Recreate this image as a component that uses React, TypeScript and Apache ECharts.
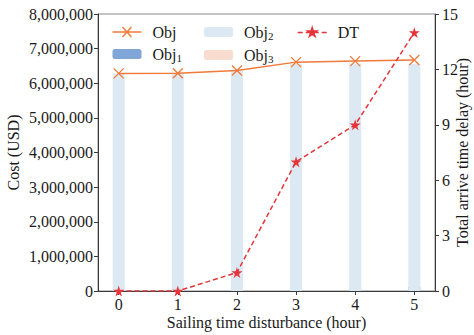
import React, { useEffect, useRef } from "react";
import * as echarts from "echarts";

const xValues = [0, 1, 2, 3, 4, 5];
const objTotal = [6285000, 6290000, 6370000, 6610000, 6640000, 6670000];
const obj1 = [0, 0, 0, 45000, 70000, 115000];
const obj3 = [0, 0, 0, 0, 0, 0];
const obj2 = [6285000, 6290000, 6370000, 6565000, 6570000, 6555000];
const dt = [0, 0, 1, 7, 9, 14];

const FONT = "'Liberation Serif', 'Times New Roman', serif";
const TXT = "#1a1a1a";
const AX = "#3a3a3a";
const ORANGE = "#ef7a3a";
const RED = "#e5353a";

const starPath =
  "path://M50,0 L61,35 L98,35 L68,57 L79,91 L50,70 L21,91 L32,57 L2,35 L39,35 Z";
const crossPath = "path://M0,0 L10,10 M10,0 L0,10";
const objIcon = "path://M0,5 L29,5 M10,0 L19,10 M19,0 L10,10";
const dtIcon =
  "path://M0,5 L5,5 M8,5 L11,5 M18,5 L21,5 M24,5 L29,5 M14.5,0 L15.6,3.5 L19.3,3.5 L16.3,5.7 L17.4,9.1 L14.5,7 L11.6,9.1 L12.7,5.7 L9.7,3.5 L13.4,3.5 Z";

export default function App() {
  const ref = useRef<HTMLDivElement>(null);
  useEffect(() => {
    if (!ref.current) return;
    const chart = echarts.init(ref.current, undefined, { renderer: "svg" });
    const pairs = (arr: number[]) => arr.map((v, i) => [xValues[i], v]);
    const legendText = {
      fontFamily: FONT,
      fontSize: 16,
      color: TXT,
      padding: [0, 0, 0, 6],
      rich: {
        a: { fontFamily: FONT, fontSize: 16, color: TXT },
        s: { fontFamily: FONT, fontSize: 11, color: TXT, padding: [7, 0, 0, 0] },
      },
    };
    const fmt = (name: string) =>
      name === "Obj" || name === "DT" ? name : `{a|Obj}{s|${name.slice(3)}}`;
    const legendBase = {
      orient: "vertical",
      padding: 0,
      itemWidth: 29,
      itemHeight: 10,
      itemGap: 6,
      textStyle: legendText,
      formatter: fmt,
      selectedMode: false,
    };
    chart.setOption({
      animation: false,
      textStyle: { fontFamily: FONT },
      grid: {
        left: 98,
        right: 39,
        top: 14,
        bottom: 44,
        outerBoundsMode: "none",
        containLabel: false,
        show: true,
        borderColor: "#8a8a8a",
        borderWidth: 1,
      },
      legend: [
        {
          ...legendBase,
          left: 110,
          top: 24,
          data: [
            {
              name: "Obj",
              icon: objIcon,
              itemStyle: { color: "none", borderColor: ORANGE, borderWidth: 1.4 },
            },
            { name: "Obj1" },
          ],
        },
        { ...legendBase, left: 204, top: 24, data: ["Obj2", "Obj3"] },
        {
          ...legendBase,
          left: 297,
          top: 24,
          data: [
            {
              name: "DT",
              icon: dtIcon,
              itemStyle: { color: RED, borderColor: RED, borderWidth: 1.4 },
            },
          ],
        },
      ],
      xAxis: {
        type: "value",
        min: -0.35,
        max: 5.35,
        name: "Sailing time disturbance (hour)",
        nameLocation: "middle",
        nameGap: 23,
        nameMoveOverlap: false,
        nameTextStyle: { fontFamily: FONT, fontSize: 16, color: TXT },
        axisLine: { onZero: false, lineStyle: { color: AX, width: 1 } },
        axisTick: { show: true, length: 4, lineStyle: { color: AX }, customValues: xValues },
        axisLabel: {
          fontFamily: FONT,
          fontSize: 16,
          color: TXT,
          margin: 5,
          customValues: xValues,
        },
        splitLine: { show: false },
      },
      yAxis: [
        {
          type: "value",
          min: 0,
          max: 8000000,
          interval: 1000000,
          name: "Cost (USD)",
          nameLocation: "middle",
          nameGap: 77,
          nameMoveOverlap: false,
          nameTextStyle: { fontFamily: FONT, fontSize: 16, color: TXT },
          axisLine: { show: true, onZero: false, lineStyle: { color: AX, width: 1 } },
          axisTick: { show: true, length: 4, lineStyle: { color: AX } },
          axisLabel: {
            fontFamily: FONT,
            fontSize: 16,
            color: TXT,
            margin: 5,
            formatter: (v: number) => v.toLocaleString("en-US"),
          },
          splitLine: { show: false },
        },
        {
          type: "value",
          min: 0,
          max: 15,
          interval: 3,
          position: "right",
          name: "Total arrive time delay (hour)",
          nameLocation: "middle",
          nameGap: 19,
          nameMoveOverlap: false,
          nameRotate: 90,
          nameTextStyle: { fontFamily: FONT, fontSize: 16, color: TXT },
          axisLine: { show: true, onZero: false, lineStyle: { color: AX, width: 1 } },
          axisTick: { show: true, length: 4, lineStyle: { color: AX } },
          axisLabel: { fontFamily: FONT, fontSize: 16, color: TXT, margin: 7 },
          splitLine: { show: false },
        },
      ],
      series: [
        {
          name: "Obj1",
          type: "bar",
          stack: "cost",
          barWidth: 12,
          data: pairs(obj1),
          itemStyle: { color: "#7fa6d6" },
        },
        {
          name: "Obj2",
          type: "bar",
          stack: "cost",
          barWidth: 12,
          data: pairs(obj2),
          itemStyle: { color: "#dce9f3" },
        },
        {
          name: "Obj3",
          type: "bar",
          stack: "cost",
          barWidth: 12,
          data: pairs(obj3),
          itemStyle: { color: "#f8dccf" },
        },
        {
          name: "Obj",
          type: "line",
          data: pairs(objTotal),
          symbol: crossPath,
          symbolSize: 10,
          lineStyle: { color: ORANGE, width: 1.5 },
          itemStyle: { color: ORANGE, borderColor: ORANGE, borderWidth: 1.3 },
          z: 5,
        },
        {
          name: "DT",
          type: "line",
          yAxisIndex: 1,
          data: pairs(dt),
          symbol: starPath,
          symbolSize: 11,
          lineStyle: { color: RED, width: 1.5, type: [5, 3] },
          itemStyle: { color: RED },
          z: 6,
        },
      ],
    });
    return () => chart.dispose();
  }, []);
  return <div ref={ref} style={{ width: 474, height: 335, position: "absolute", left: 0, top: 0 }} />;
}
